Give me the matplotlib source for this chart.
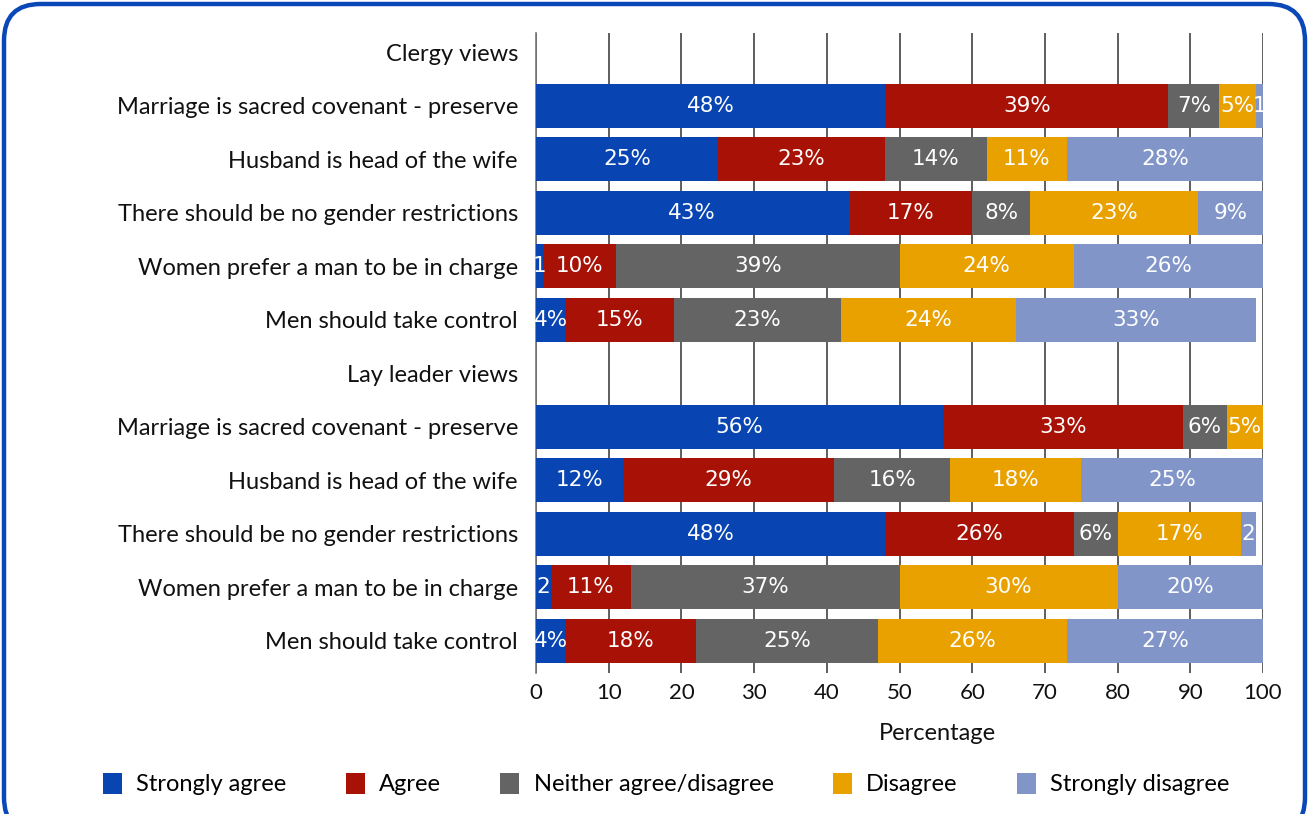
import matplotlib
matplotlib.use("Agg")
import matplotlib.pyplot as plt
from matplotlib.patches import FancyBboxPatch, Patch
import numpy as np

plt.rcParams['font.family'] = ['Lato', 'DejaVu Sans']

# Row labels (top to bottom); group headers have no bars
rows = [
    "Clergy views",
    "Marriage is sacred covenant - preserve",
    "Husband is head of the wife",
    "There should be no gender restrictions",
    "Women prefer a man to be in charge",
    "Men should take control",
    "Lay leader views",
    "Marriage is sacred covenant - preserve",
    "Husband is head of the wife",
    "There should be no gender restrictions",
    "Women prefer a man to be in charge",
    "Men should take control",
]

categories = ["Strongly agree", "Agree", "Neither agree/disagree",
              "Disagree", "Strongly disagree"]

strongly_agree    = [0, 48, 25, 43, 1, 4, 0, 56, 12, 48, 2, 4]
agree             = [0, 39, 23, 17, 10, 15, 0, 33, 29, 26, 11, 18]
neither           = [0, 7, 14, 8, 39, 23, 0, 6, 16, 6, 37, 25]
disagree          = [0, 5, 11, 23, 24, 24, 0, 5, 18, 17, 30, 26]
strongly_disagree = [0, 1, 28, 9, 26, 33, 0, 0, 25, 2, 20, 27]

series = [strongly_agree, agree, neither, disagree, strongly_disagree]
colors = ["#0845b2", "#a81206", "#646464", "#e9a100", "#8195c9"]

x_ticks = [0, 10, 20, 30, 40, 50, 60, 70, 80, 90, 100]

fig = plt.figure(figsize=(13.09, 8.14), dpi=100)
ax = fig.add_axes([536 / 1309, 1 - 673 / 814, (1263 - 536) / 1309, (673 - 33) / 814])

y = np.arange(len(rows))
left = np.zeros(len(rows))
for vals, col in zip(series, colors):
    vals = np.array(vals, dtype=float)
    bars = ax.barh(y, vals, left=left, height=0.82, color=col, zorder=3)
    labels = ["" if v == 0 else (f"{int(v)}%" if v > 2 else f"{int(v)}") for v in vals]
    ax.bar_label(bars, labels=labels, label_type="center", color="white",
                 fontsize=15.5, family="DejaVu Sans", zorder=4)
    left += vals

ax.set_xlim(0, 100)
ax.set_ylim(11.6, -0.36)
ax.set_yticks(y)
ax.set_yticklabels(rows, fontsize=17, color="#111111")
ax.set_xticks(x_ticks)
ax.set_xticklabels([str(t) for t in x_ticks], fontsize=16, color="#111111")
ax.tick_params(axis="y", length=0, pad=13)
ax.tick_params(axis="x", length=0, pad=7)
ax.grid(axis="x", color="#333333", linewidth=1.1, zorder=1)
for s in ["top", "right", "bottom"]:
    ax.spines[s].set_visible(False)
ax.spines["left"].set_color("#777777")
ax.spines["left"].set_linewidth(1.2)
ax.set_xlabel("Percentage", fontsize=17, color="#111111")
ax.xaxis.set_label_coords(0.552, -0.078)

handles = [Patch(facecolor=c, edgecolor="none") for c in colors]
fig.legend(handles, categories, loc="center", bbox_to_anchor=(0.509, 1 - 784 / 814),
           ncol=5, frameon=False, fontsize=17, handlelength=0.8, handleheight=1.0,
           handletextpad=0.62, columnspacing=2.5)

# Rounded outer frame
frame = FancyBboxPatch((4 / 1309, -20 / 814), 1301 / 1309, 830 / 814,
                       boxstyle="round,pad=0,rounding_size=0.028",
                       transform=fig.transFigure, fill=False,
                       edgecolor="#0a48b7", linewidth=3.2, mutation_aspect=1309 / 814)
fig.patches.append(frame)

fig.savefig("out.png", dpi=100)
